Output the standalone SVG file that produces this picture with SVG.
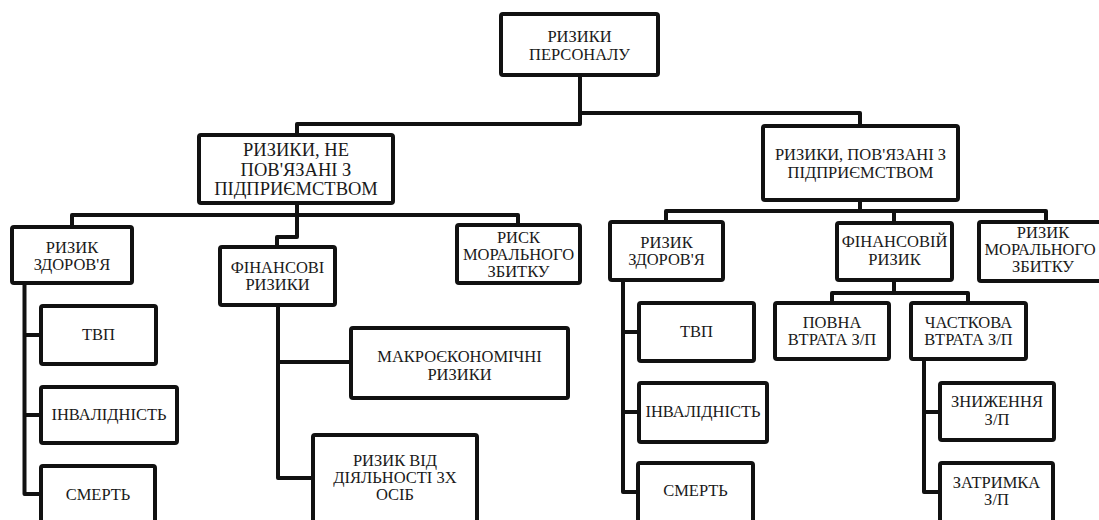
<svg xmlns="http://www.w3.org/2000/svg" width="1099" height="520" viewBox="0 0 1099 520">
<style>
.b{fill:#fff;stroke:#111;stroke-width:4;}
.c{fill:none;stroke:#111;stroke-width:4;stroke-linejoin:round;}
text{font-family:'Liberation Serif','Times New Roman',serif;font-size:16.5px;fill:#1a1a1a;text-anchor:middle;}
.big{font-size:18.5px;}
</style>
<rect width="1099" height="520" fill="#fff"/>
<g id="connectors">
<path class="c" d="M580,75 V124 H297 V135"/>
<path class="c" d="M580,113 H860 V126"/>
<path class="c" d="M297,203 V215"/>
<path class="c" d="M72,227 V215 H518 V225"/>
<path class="c" d="M297,215 V237 H277 V247"/>
<path class="c" d="M24.5,283 V494 H41"/>
<path class="c" d="M24.5,335 H41"/>
<path class="c" d="M24.5,415 H41"/>
<path class="c" d="M278,305 V478 H313"/>
<path class="c" d="M278,362 H351"/>
<path class="c" d="M860,200 V211"/>
<path class="c" d="M666,222 V211 H1046 V222"/>
<path class="c" d="M894,211 V223"/>
<path class="c" d="M623,280 V492 H638"/>
<path class="c" d="M623,332 H639"/>
<path class="c" d="M623,412 H639"/>
<path class="c" d="M894,280 V293"/>
<path class="c" d="M832,303 V293 H968 V303"/>
<path class="c" d="M924,359 V492 H940"/>
<path class="c" d="M924,412 H940"/>
</g>
<g id="root"><rect class="b" x="501" y="14" width="157" height="61" rx="2"/><text x="579.5" y="42">РИЗИКИ</text><text x="579.5" y="60">ПЕРСОНАЛУ</text></g>
<g id="l2-left"><rect class="b" x="199" y="135" width="194" height="68" rx="2"/><text class="big" x="296" y="156">РИЗИКИ, НЕ</text><text class="big" x="296" y="175.5">ПОВ'ЯЗАНІ З</text><text class="big" x="296" y="195">ПІДПРИЄМСТВОМ</text></g>
<g id="l2-right"><rect class="b" x="763" y="126" width="195" height="74" rx="2"/><text x="860.5" y="160">РИЗИКИ, ПОВ'ЯЗАНІ З</text><text x="860.5" y="178">ПІДПРИЄМСТВОМ</text></g>
<g id="health-left"><rect class="b" x="12" y="227" width="120" height="56" rx="2"/><text x="72" y="253">РИЗИК</text><text x="72" y="270">ЗДОРОВ'Я</text></g>
<g id="fin-left"><rect class="b" x="220" y="247" width="115" height="58" rx="2"/><text x="277.5" y="273">ФІНАНСОВІ</text><text x="277.5" y="290">РИЗИКИ</text></g>
<g id="moral-left"><rect class="b" x="457" y="225" width="123" height="58" rx="2"/><text x="518.5" y="243">РИСК</text><text x="518.5" y="260">МОРАЛЬНОГО</text><text x="518.5" y="277">ЗБИТКУ</text></g>
<g id="tvp-left"><rect class="b" x="41" y="306" width="115" height="58" rx="2"/><text x="98.5" y="340">ТВП</text></g>
<g id="inv-left"><rect class="b" x="41" y="387" width="136" height="56" rx="2"/><text x="109" y="420">ІНВАЛІДНІСТЬ</text></g>
<g id="death-left"><rect class="b" x="41" y="466" width="114" height="60" rx="2"/><text x="98" y="500">СМЕРТЬ</text></g>
<g id="macro"><rect class="b" x="351" y="328" width="217" height="70" rx="2"/><text x="459.5" y="362">МАКРОЄКОНОМІЧНІ</text><text x="459.5" y="380">РИЗИКИ</text></g>
<g id="third-party"><rect class="b" x="313" y="435" width="164" height="91" rx="2"/><text x="395" y="466">РИЗИК ВІД</text><text x="395" y="483">ДІЯЛЬНОСТІ 3Х</text><text x="395" y="500">ОСІБ</text></g>
<g id="health-right"><rect class="b" x="610" y="222" width="113" height="58" rx="2"/><text x="666.5" y="247.5">РИЗИК</text><text x="666.5" y="265">ЗДОРОВ'Я</text></g>
<g id="fin-right"><rect class="b" x="837" y="223" width="115" height="57" rx="2"/><text x="894.5" y="247">ФІНАНСОВІЙ</text><text x="894.5" y="265">РИЗИК</text></g>
<g id="moral-right"><rect class="b" x="979" y="222" width="134" height="59" rx="2"/><text x="1043" y="238">РИЗИК</text><text x="1040" y="255">МОРАЛЬНОГО</text><text x="1043" y="272">ЗБИТКУ</text></g>
<g id="tvp-right"><rect class="b" x="639" y="303" width="115" height="58" rx="2"/><text x="696.5" y="337">ТВП</text></g>
<g id="inv-right"><rect class="b" x="639" y="383" width="128" height="59" rx="2"/><text x="703" y="417">ІНВАЛІДНІСТЬ</text></g>
<g id="death-right"><rect class="b" x="638" y="463" width="115" height="63" rx="2"/><text x="695.5" y="496">СМЕРТЬ</text></g>
<g id="full-loss"><rect class="b" x="775" y="303" width="114" height="56" rx="2"/><text x="832" y="328">ПОВНА</text><text x="832" y="345">ВТРАТА З/П</text></g>
<g id="partial-loss"><rect class="b" x="911" y="303" width="115" height="56" rx="2"/><text x="968.5" y="328">ЧАСТКОВА</text><text x="968.5" y="345">ВТРАТА З/П</text></g>
<g id="reduction"><rect class="b" x="940" y="383" width="114" height="57" rx="2"/><text x="997" y="407">ЗНИЖЕННЯ</text><text x="997" y="425">З/П</text></g>
<g id="delay"><rect class="b" x="940" y="463" width="113" height="63" rx="2"/><text x="996.5" y="488">ЗАТРИМКА</text><text x="996.5" y="505">З/П</text></g>
</svg>
